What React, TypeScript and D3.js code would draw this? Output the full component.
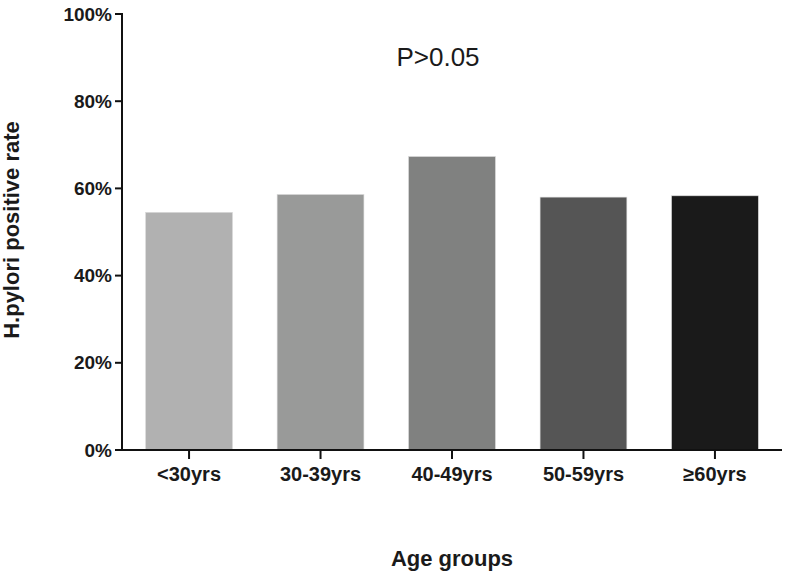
import React from "react";
import * as d3 from "d3";

const categories = ["<30yrs", "30-39yrs", "40-49yrs", "50-59yrs", "\u226560yrs"];
const values = [54.5, 58.6, 67.3, 58.0, 58.3];
const colors = ["#b1b1b1", "#999a99", "#808180", "#555555", "#1a1a1a"];
const yTicks = [0, 20, 40, 60, 80, 100];

const W = 788;
const H = 576;
const left = 122;
const right = 782;
const top = 14;
const bottom = 450;
const font = "'Liberation Sans', Arial, sans-serif";

export default function App() {
  const x = d3
    .scaleBand<string>()
    .domain(categories)
    .range([left, right])
    .paddingInner(0.34)
    .paddingOuter(0.18);
  const y = d3.scaleLinear().domain([0, 100]).range([bottom, top]);

  return (
    <svg
      width={W}
      height={H}
      style={{ position: "absolute", left: 0, top: 0, background: "#fff" }}
      fontFamily={font}
    >
      {categories.map((c, i) => (
        <rect
          key={c}
          x={x(c)}
          y={y(values[i])}
          width={x.bandwidth()}
          height={bottom - y(values[i])}
          fill={colors[i]}
          stroke="#d8d8d8"
          strokeWidth={0.6}
        />
      ))}
      {/* y axis */}
      <line x1={left} x2={left} y1={top - 1} y2={bottom + 1} stroke="#111" strokeWidth={2} />
      {yTicks.map((t) => (
        <g key={t}>
          <line x1={left - 7} x2={left} y1={y(t)} y2={y(t)} stroke="#111" strokeWidth={2} />
          <text
            x={left - 10}
            y={y(t)}
            textAnchor="end"
            dominantBaseline="central"
            fontSize={19}
            fontWeight="bold"
            fill="#1a1a1a"
          >
            {t}%
          </text>
        </g>
      ))}
      {/* x axis */}
      <line x1={left - 1} x2={right} y1={bottom} y2={bottom} stroke="#111" strokeWidth={2} />
      {categories.map((c) => {
        const cx = (x(c) as number) + x.bandwidth() / 2;
        return (
          <g key={c}>
            <line x1={cx} x2={cx} y1={bottom} y2={bottom + 9} stroke="#111" strokeWidth={2} />
            <text
              x={cx}
              y={481}
              textAnchor="middle"
              fontSize={20}
              fontWeight="bold"
              fill="#1a1a1a"
            >
              {c}
            </text>
          </g>
        );
      })}
      <text
        x={(left + right) / 2}
        y={566}
        textAnchor="middle"
        fontSize={22}
        fontWeight="bold"
        fill="#1a1a1a"
      >
        Age groups
      </text>
      <text
        transform={`translate(19,230) rotate(-90)`}
        textAnchor="middle"
        fontSize={22}
        fontWeight="bold"
        fill="#1a1a1a"
      >
        H.pylori positive rate
      </text>
      <text x={438} y={66} textAnchor="middle" fontSize={26} fill="#1a1a1a">
        P&gt;0.05
      </text>
    </svg>
  );
}
